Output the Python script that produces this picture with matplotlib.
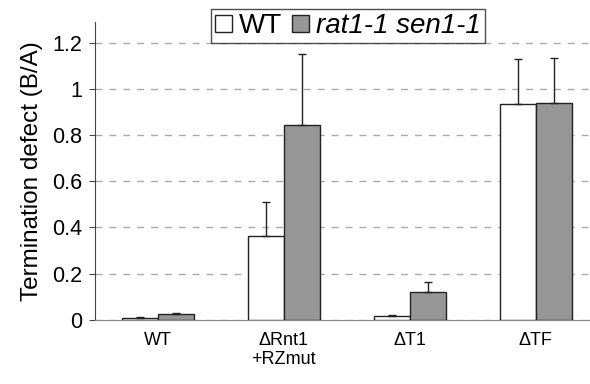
import matplotlib.pyplot as plt
import numpy as np

plt.rcParams['font.family'] = ['Liberation Sans', 'DejaVu Sans']

groups = ['WT', '\u0394Rnt1\n+RZmut', '\u0394T1', '\u0394TF']
wt = [0.008, 0.365, 0.015, 0.933]
wt_err = [0.004, 0.145, 0.006, 0.197]
mut = [0.025, 0.845, 0.12, 0.938]
mut_err = [0.004, 0.305, 0.043, 0.197]

x = np.arange(len(groups))
w = 0.287

fig = plt.figure(figsize=(5.9, 3.84), dpi=100)
ax = fig.add_axes([0.161, 0.167, 0.839, 0.776])

ax.bar(x - w / 2, wt, w, color='white', edgecolor='#222222', linewidth=1.0,
       yerr=[np.zeros(4), wt_err], error_kw=dict(ecolor='#222222', elinewidth=1, capsize=3, capthick=1),
       label='WT', zorder=3)
ax.bar(x + w / 2, mut, w, color='#969696', edgecolor='#222222', linewidth=1.0,
       yerr=[np.zeros(4), mut_err], error_kw=dict(ecolor='#222222', elinewidth=1, capsize=3, capthick=1),
       label='rat1-1 sen1-1', zorder=3)

ax.set_xlim(-0.5, 3.43)
ax.set_ylim(0, 1.29)
ax.set_yticks([0, 0.2, 0.4, 0.6, 0.8, 1, 1.2])
ax.set_yticklabels(['0', '0.2', '0.4', '0.6', '0.8', '1', '1.2'], fontsize=15.5)
ax.set_xticks(x)
ax.set_xticklabels(groups, fontsize=13, linespacing=1.15)
ax.tick_params(axis='x', length=0, pad=9)
ax.tick_params(axis='y', length=4, color='#444444', pad=5)
ax.yaxis.grid(True, linestyle=(0, (5, 5)), color='#aaaaaa', linewidth=1)
ax.set_axisbelow(True)

for s in ['top', 'right']:
    ax.spines[s].set_visible(False)
ax.spines['left'].set_color('#444444')
ax.spines['bottom'].set_color('#888888')

ax.set_ylabel('Termination defect (B/A)', fontsize=17.5, labelpad=7)

leg = ax.legend(loc='upper center', bbox_to_anchor=(0.511, 1.043), ncol=2,
                prop=dict(size=20),
                frameon=True, fancybox=False, edgecolor='#222222', handlelength=0.6,
                handleheight=0.6, handletextpad=0.25, columnspacing=0.35, borderpad=0.15,
                borderaxespad=0)
leg.get_frame().set_linewidth(1)
leg.texts[1].set_style('italic')

fig.savefig('out.png', dpi=100)
